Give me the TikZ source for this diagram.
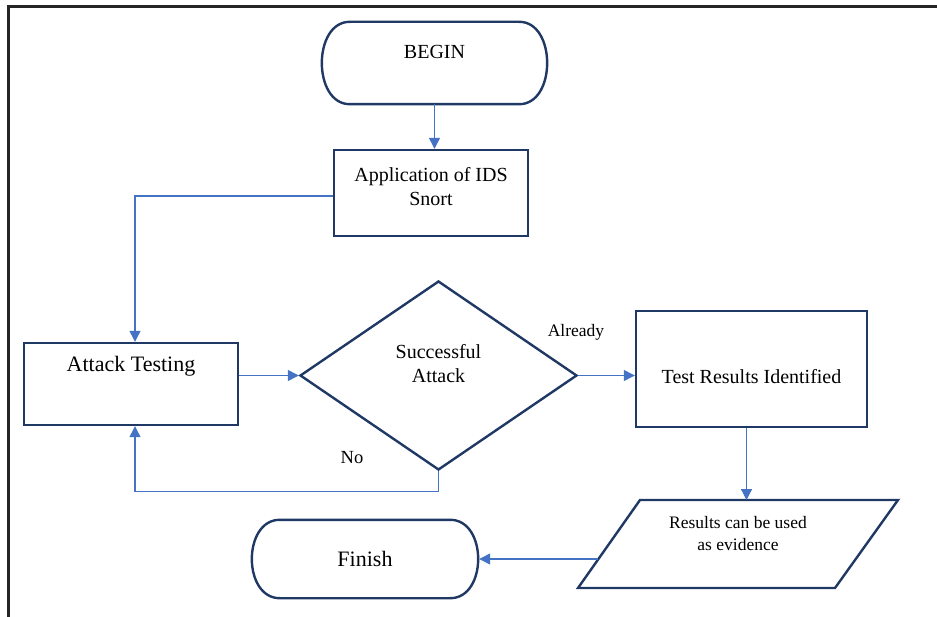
\documentclass[tikz,border=0pt]{standalone}
\usepackage{fontspec}
\newfontfamily\tnr{Liberation Serif}
\usetikzlibrary{shapes.geometric,arrows.meta}
\definecolor{navy}{RGB}{32,56,100}
\definecolor{connblue}{RGB}{68,114,196}
\pgfdeclarelayer{bg}
\pgfsetlayers{bg,main}
\newcommand{\termshape}[1]{%
  \begin{pgfonlayer}{bg}
  \draw[navy,line width=2.4pt,fill=white]
    ([xshift=-28pt]#1.north east) .. controls ([xshift=9.3pt]#1.north east) and ([xshift=9.3pt]#1.south east) .. ([xshift=-28pt]#1.south east)
    -- ([xshift=28pt]#1.south west) .. controls ([xshift=-9.3pt]#1.south west) and ([xshift=-9.3pt]#1.north west) .. ([xshift=28pt]#1.north west)
    -- cycle;
  \end{pgfonlayer}}
\begin{document}
\begin{tikzpicture}[x=1pt,y=-1pt,
  shp/.style={draw=navy,line width=2.4pt,fill=white,inner sep=0pt},
  box/.style={shp,rectangle},
  term/.style={rectangle,inner sep=0pt},
  conn/.style={draw=connblue,line width=1.3pt,-{Triangle[length=11pt,width=11pt]}},
  lab/.style={font=\tnr\fontsize{20}{24}\selectfont,align=center}]
\useasboundingbox (0,0) rectangle (937,617);
\draw[line width=3pt,black!85] (8,617) -- (8,7) -- (937,7);

\node[term,minimum width=225pt,minimum height=82pt,
  label={[lab,yshift=11pt]center:BEGIN}] (begin) at (434.5,63) {};
\termshape{begin}
\node[box,minimum width=194pt,minimum height=86pt,
  label={[lab,yshift=6pt]center:Application of IDS\\Snort}] (app) at (431,193) {};
\node[box,minimum width=214pt,minimum height=82pt,
  label={[lab,font=\tnr\fontsize{22}{26}\selectfont,yshift=18pt]center:Attack Testing}] (attack) at (131,384) {};
\node[shp,diamond,minimum width=277pt,minimum height=189pt,
  label={[lab,yshift=12pt]center:Successful\\Attack}] (dec) at (438.5,375.5) {};
\node[box,minimum width=231pt,minimum height=116pt,
  label={[lab,yshift=-8pt]center:Test Results Identified}] (test) at (751.5,369) {};
\draw[navy,line width=2.4pt,fill=white] (640,500) -- (898,500) -- (835,588) -- (578,588) -- cycle;
\coordinate (partop) at (746.5,500);
\coordinate (parleft) at (598,559);
\node[lab,font=\tnr\fontsize{17.5}{22}\selectfont] (restext) at (738,534) {Results can be used\\as evidence};
\node[term,minimum width=226pt,minimum height=78pt,
  font=\tnr\fontsize{22}{26}\selectfont] (finish) at (365,559) {Finish};
\termshape{finish}

\node[font=\tnr\fontsize{17.5}{20}\selectfont] (already) at (576,332) {Already};
\node[font=\tnr\fontsize{18.5}{20}\selectfont] (no) at (352,458) {No};

\draw[conn] (begin.south) -- (begin.south |- app.north);
\draw[conn] ([yshift=-3pt]app.west) -| ([xshift=4pt]attack.north);
\draw[conn] (attack.east |- dec.west) -- (dec.west);
\draw[conn] (dec.east) -- (dec.east -| test.west);
\draw[conn] ([xshift=-5pt]test.south) -- (partop);
\draw[conn] (parleft) -- ([xshift=1pt]finish.east);
\draw[conn] (dec.south) -- ++(0,20) -| ([xshift=4pt]attack.south);
\end{tikzpicture}
\end{document}
